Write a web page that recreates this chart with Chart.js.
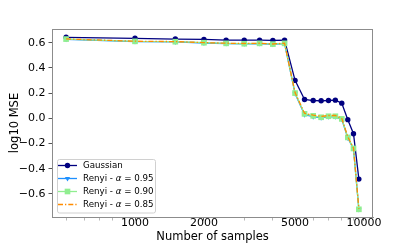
<!DOCTYPE html>
<html>
<head>
<meta charset="utf-8">
<script src="https://cdn.jsdelivr.net/npm/chart.js@4.4.0/dist/chart.umd.min.js"></script>
<style>
html,body{margin:0;padding:0;background:#fff;}
#wrap{position:relative;width:415px;height:244px;}
</style>
</head>
<body>
<div id="wrap"><canvas id="c" width="415" height="244"></canvas></div>
<script>
// ---- data ----
const samples = [500,1000,1500,2000,2500,3000,3500,4000,4500,5000,5500,6000,6500,7000,7500,8000,8500,9000,9500];
const gaussian = [0.643,0.635,0.629,0.627,0.621,0.621,0.621,0.619,0.621,0.301,0.149,0.141,0.139,0.141,0.144,0.120,-0.011,-0.123,-0.483];
const renyi95  = [0.627,0.609,0.606,0.598,0.593,0.591,0.593,0.588,0.593,0.196,0.028,0.013,0.004,0.012,0.012,-0.008,-0.156,-0.243,-0.725];
const renyi90  = [0.629,0.611,0.608,0.600,0.595,0.592,0.595,0.589,0.595,0.200,0.035,0.019,0.008,0.016,0.016,-0.005,-0.152,-0.240,-0.723];
const renyi85  = [0.630,0.612,0.609,0.601,0.596,0.594,0.596,0.590,0.596,0.204,0.040,0.025,0.015,0.022,0.022,-0.001,-0.148,-0.236,-0.720];
const xTickValues = [500,600,700,800,900,1000,2000,3000,4000,5000,6000,7000,8000,9000,10000];
const xTickLabels = [1000,2000,5000,10000];
const yTickValues = [-0.6,-0.4,-0.2,0.0,0.2,0.4,0.6];
const seriesNames = ['Gaussian','Renyi - \u03b1 = 0.95','Renyi - \u03b1 = 0.90','Renyi - \u03b1 = 0.85'];

const COLORS = ['#000080','#1e90ff','#90ee90','#ff8c00'];
const FONT = "'DejaVu Sans', sans-serif";

function pts(arr){ return samples.map((x,i)=>({x:x,y:arr[i]})); }

const datasets = [
  {label:seriesNames[0], data:pts(gaussian), borderColor:COLORS[0], backgroundColor:COLORS[0],
   borderWidth:1.3, pointStyle:'circle', pointRadius:2.7, pointBorderWidth:0, order:3},
  {label:seriesNames[1], data:pts(renyi95), borderColor:COLORS[1], backgroundColor:COLORS[1],
   borderWidth:1.3, pointStyle:'triangle', pointRotation:180, pointRadius:3, pointBorderWidth:0, order:2},
  {label:seriesNames[2], data:pts(renyi90), borderColor:COLORS[2], backgroundColor:COLORS[2],
   borderWidth:1.3, pointStyle:'rect', pointRadius:4, pointBorderWidth:0, order:1},
  {label:seriesNames[3], data:pts(renyi85), borderColor:COLORS[3], backgroundColor:COLORS[3],
   borderWidth:1.3, borderDash:[5,2,1.3,2], pointRadius:0, order:0}
];

const framePlugin = {
  id:'frame',
  afterDatasetsDraw(chart){
    const {ctx, chartArea:a} = chart;
    ctx.save();
    ctx.strokeStyle = '#8c8c8c';
    ctx.lineWidth = 1;
    ctx.strokeRect(a.left+0.5, a.top+0.5, a.right-a.left-1, a.bottom-a.top);
    // legend
    const lx=57.5, ly=159.5, lw=98, lh=53.5, r=2;
    ctx.beginPath();
    ctx.moveTo(lx+r,ly); ctx.lineTo(lx+lw-r,ly); ctx.arcTo(lx+lw,ly,lx+lw,ly+r,r);
    ctx.lineTo(lx+lw,ly+lh-r); ctx.arcTo(lx+lw,ly+lh,lx+lw-r,ly+lh,r);
    ctx.lineTo(lx+r,ly+lh); ctx.arcTo(lx,ly+lh,lx,ly+lh-r,r);
    ctx.lineTo(lx,ly+r); ctx.arcTo(lx,ly,lx+r,ly,r); ctx.closePath();
    ctx.fillStyle='rgba(255,255,255,0.85)'; ctx.fill();
    ctx.strokeStyle='#d0d0d0'; ctx.stroke();
    const rows=[165.5,178.5,191.5,204.5];
    datasets.forEach((ds,i)=>{
      const y=rows[i];
      ctx.save();
      ctx.strokeStyle=ds.borderColor; ctx.lineWidth=1.3;
      ctx.setLineDash(ds.borderDash||[]);
      ctx.beginPath(); ctx.moveTo(58,y); ctx.lineTo(77,y); ctx.stroke();
      ctx.setLineDash([]);
      if (ds.pointRadius>0){
        ctx.fillStyle=ds.backgroundColor; ctx.strokeStyle=ds.borderColor;
        Chart.helpers.drawPoint(ctx,{pointStyle:ds.pointStyle,rotation:ds.pointRotation||0,radius:ds.pointRadius,borderWidth:0},67.5,y);
      }
      ctx.restore();
      ctx.fillStyle='#000'; ctx.textBaseline='middle'; ctx.textAlign='left';
      let x=83;
      if (i===0){
        ctx.font="8.7px "+FONT; ctx.fillText('Gaussian',x,y);
      } else {
        const parts = ds.label.split('\u03b1');
        ctx.font="8.7px "+FONT; ctx.fillText(parts[0],x,y); x+=ctx.measureText(parts[0]).width;
        ctx.font="italic 8.7px "+FONT; ctx.fillText('\u03b1',x,y); x+=ctx.measureText('\u03b1').width;
        ctx.font="8.7px "+FONT; ctx.fillText(parts[1],x,y);
      }
    });
    ctx.restore();
  }
};

new Chart(document.getElementById('c'), {
  type:'line',
  data:{datasets:datasets},
  options:{
    responsive:false, animation:false, devicePixelRatio:1,
    layout:{padding:{left:0,right:42,top:29,bottom:0}},
    plugins:{legend:{display:false}, tooltip:{enabled:false}},
    elements:{line:{tension:0}},
    scales:{
      x:{type:'logarithmic', min:434, max:10950,
        afterFit(s){ s.height=27; },
        afterBuildTicks(s){ s.ticks = xTickValues.map(v=>({value:v, major:xTickLabels.includes(v)})); },
        grid:{display:true, drawOnChartArea:false, drawTicks:true, tickLength:3.5,
          tickColor:(c)=> (c.tick && xTickLabels.includes(c.tick.value)) ? '#555' : '#999',
          tickWidth:(c)=> (c.tick && xTickLabels.includes(c.tick.value)) ? 1 : 0.7},
        border:{display:true,color:'#8c8c8c',width:1},
        ticks:{autoSkip:false, maxRotation:0, padding:-3, color:'#000',
          font:{family:FONT,size:11,lineHeight:1},
          callback:(v)=> xTickLabels.includes(v) ? String(v) : ''},
        title:{display:true,text:'Number of samples',color:'#000',font:{family:FONT,size:11.5},padding:{top:0,bottom:0}}
      },
      y:{type:'linear', min:-0.784, max:0.709,
        afterFit(s){ s.width=52; },
        afterBuildTicks(s){ s.ticks = yTickValues.map(v=>({value:v})); },
        grid:{display:true, drawOnChartArea:false, drawTicks:true, tickLength:3.5, tickColor:'#555'},
        border:{display:true,color:'#8c8c8c',width:1},
        ticks:{padding:3, color:'#000', font:{family:FONT,size:11},
          callback:(v)=> v.toFixed(1).replace('-','\u2212').replace('\u22120.0','0.0')},
        title:{display:true,text:'log10 MSE',color:'#000',font:{family:FONT,size:11.5},padding:{top:8.5,bottom:0}}
      }
    }
  },
  plugins:[framePlugin]
});
</script>
</body>
</html>
